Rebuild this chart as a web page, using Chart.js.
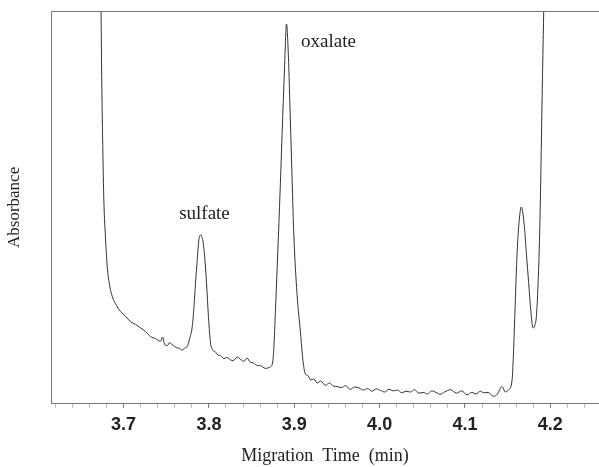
<!DOCTYPE html>
<html>
<head>
<meta charset="utf-8">
<script src="https://cdn.jsdelivr.net/npm/chart.js@4"></script>
<style>
  html, body { margin: 0; padding: 0; background: #fff; }
  #wrap { width: 599px; height: 467px; }
</style>
</head>
<body>
<div id="wrap"><canvas id="ceChart"></canvas></div>
<script>
// Migration time (min) of each sampled point on the electropherogram
const times = [
  3.6731, 3.6743, 3.6757, 3.6769, 3.6789, 3.6809, 3.6838, 3.6868, 3.6918, 3.6965,
  3.7023, 3.7082, 3.7141, 3.7199, 3.7258, 3.7316, 3.7375, 3.7433, 3.7457, 3.7480,
  3.7512, 3.7541, 3.7570, 3.7621, 3.7660, 3.7687, 3.7716, 3.7746, 3.7773, 3.7805,
  3.7826, 3.7843, 3.7863, 3.7882, 3.7902, 3.7920, 3.7933, 3.7952, 3.7972, 3.7995,
  3.8019, 3.8042, 3.8077, 3.8107, 3.8136, 3.8175, 3.8214, 3.8250, 3.8288, 3.8330,
  3.8370, 3.8410, 3.8448, 3.8485, 3.8522, 3.8560, 3.8604, 3.8635, 3.8663, 3.8700,
  3.8721, 3.8745, 3.8760, 3.8780, 3.8800, 3.8827, 3.8858, 3.8885, 3.8909, 3.8932,
  3.8947, 3.8971, 3.8994, 3.9032, 3.9073, 3.9102, 3.9131, 3.9160, 3.9190, 3.9230,
  3.9268, 3.9310, 3.9365, 3.9410, 3.9460, 3.9502, 3.9550, 3.9600, 3.9658, 3.9710,
  3.9760, 3.9810, 3.9860, 3.9910, 3.9960, 4.0010, 4.0060, 4.0110, 4.0160, 4.0210,
  4.0260, 4.0310, 4.0360, 4.0410, 4.0460, 4.0510, 4.0560, 4.0610, 4.0660, 4.0710,
  4.0760, 4.0829, 4.0900, 4.0960, 4.1025, 4.1080, 4.1130, 4.1180, 4.1219, 4.1270,
  4.1336, 4.1380, 4.1434, 4.1473, 4.1512, 4.1552, 4.1570, 4.1590, 4.1610, 4.1629,
  4.1660, 4.1696, 4.1720, 4.1746, 4.1772, 4.1797, 4.1816, 4.1836, 4.1855, 4.1875,
  4.1890, 4.1903, 4.1922, 4.1935
];

// Absorbance (arbitrary units, 0 = axis, 100 = top of frame)
const absorbance = [
  115, 85, 65, 51.9, 42, 34.9, 30, 27.3, 25, 23.5,
  22.3, 20.9, 20.2, 19.3, 18.4, 17.1, 16.6, 15.9, 17.0, 15.2,
  14.8, 15.6, 15.0, 14.3, 14.1, 13.6, 14.2, 14.6, 16.5, 19.7,
  25, 30.8, 36.5, 41.7, 43.0, 42.3, 41.0, 37, 30.8, 22,
  15.5, 13.8, 13.2, 12.4, 12.3, 11.5, 11.8, 11.2, 11.0, 11.9,
  11.3, 10.8, 11.6, 10.6, 10.4, 9.8, 9.7, 9.3, 9.0, 9.2,
  9.4, 10.4, 14, 24, 34.9, 50, 69.0, 85, 96.7, 88,
  77.4, 60, 43.5, 28, 18.1, 11, 7.5, 7.2, 6.1, 6.3,
  5.3, 5.8, 4.7, 5.3, 4.5, 4.4, 4.1, 4.6, 3.7, 4.3,
  4.0, 3.5, 3.9, 3.2, 3.8, 3.4, 3.0, 3.7, 3.3, 3.5,
  2.8, 3.2, 3.0, 3.6, 2.7, 2.9, 2.5, 3.3, 2.9, 2.4,
  3.0, 3.6, 2.7, 3.3, 2.3, 2.9, 2.5, 3.2, 2.8, 2.9,
  1.9, 2.5, 4.4, 3.0, 3.6, 6.1, 14, 26.5, 38, 45.1,
  50.1, 45.1, 38, 30.8, 23.5, 19.3, 19.8, 22.2, 30, 43.5,
  60, 77.4, 99.5, 115
];

// Peak labels and where they sit (time, absorbance)
const peakNames = ['sulfate', 'oxalate'];
const peakLabelX = [3.7948, 3.9400];
const peakLabelY = [48.3, 92.1];

const points = times.map((t, i) => ({ x: t, y: absorbance[i] }));

const isMajor = v => Math.abs(v * 10 - Math.round(v * 10)) < 1e-6;

// draws frame (top + left), peak names and the y-axis caption
const extras = {
  id: 'extras',
  afterDraw(chart) {
    const { ctx, chartArea: a, scales } = chart;
    ctx.save();
    ctx.strokeStyle = '#777';
    ctx.lineWidth = 1;
    ctx.beginPath();
    ctx.moveTo(a.left + 0.5, a.bottom);
    ctx.lineTo(a.left + 0.5, a.top + 0.5);
    ctx.lineTo(a.right, a.top + 0.5);
    ctx.stroke();

    ctx.fillStyle = '#222';
    ctx.font = '19px "Liberation Serif"';
    ctx.textAlign = 'center';
    ctx.textBaseline = 'middle';
    peakNames.forEach((name, i) => {
      ctx.fillText(name, scales.x.getPixelForValue(peakLabelX[i]), scales.y.getPixelForValue(peakLabelY[i]));
    });

    ctx.font = '17px "Liberation Serif"';
    ctx.translate(15, (a.top + a.bottom) / 2);
    ctx.rotate(-Math.PI / 2);
    ctx.fillText('Absorbance', 0, 0);
    ctx.restore();
  }
};

new Chart(document.getElementById('ceChart'), {
  type: 'line',
  data: {
    datasets: [{
      data: points,
      borderColor: '#333',
      borderWidth: 1,
      pointRadius: 0,
      fill: false,
      cubicInterpolationMode: 'monotone'
    }]
  },
  options: {
    responsive: true,
    maintainAspectRatio: false,
    animation: false,
    layout: { padding: { left: 51, top: 11, right: 0, bottom: 0 } },
    plugins: { legend: { display: false }, tooltip: { enabled: false } },
    scales: {
      x: {
        type: 'linear',
        min: 3.615,
        max: 4.257,
        border: { display: true, color: '#777' },
        grid: {
          drawOnChartArea: false,
          tickLength: 4,
          color: c => (c.tick && isMajor(c.tick.value)) ? '#777' : '#bbb'
        },
        ticks: {
          stepSize: 0.02,
          includeBounds: false,
          autoSkip: false,
          maxRotation: 0,
          padding: 6,
          color: '#222',
          font: { family: '"Liberation Sans"', size: 18, weight: 'bold' },
          callback: v => isMajor(v) ? v.toFixed(1) : ''
        },
        title: {
          display: true,
          text: 'Migration  Time  (min)',
          color: '#222',
          font: { family: '"Liberation Serif"', size: 18 },
          padding: { top: 4, bottom: 0 }
        }
      },
      y: {
        display: false,
        min: 0,
        max: 100
      }
    }
  },
  plugins: [extras]
});
</script>
</body>
</html>
